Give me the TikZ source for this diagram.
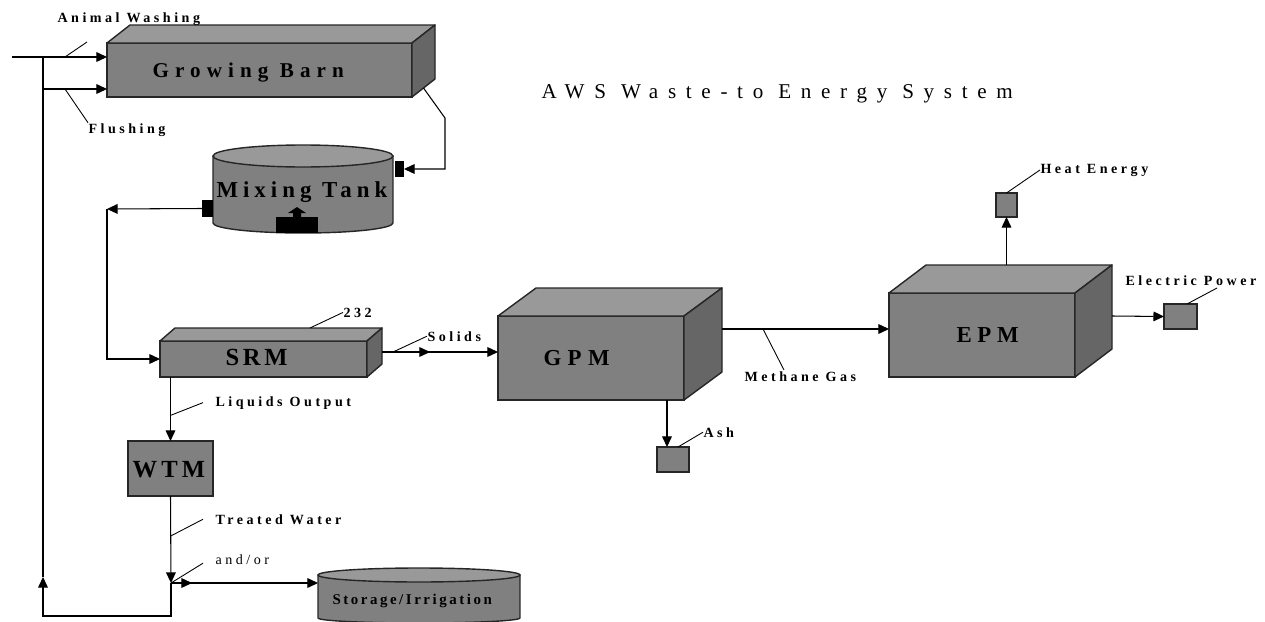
\documentclass[tikz,border=0pt]{standalone}
\usepackage{fontspec}
\setmainfont{Liberation Serif}
\newfontfamily\lblfont[LetterSpace=25]{Liberation Serif}
\newfontfamily\boxfont{Liberation Serif}
\newfontfamily\titlefont[LetterSpace=46]{Liberation Serif}
\usetikzlibrary{arrows.meta,fit,calc}

\definecolor{frontgray}{HTML}{808080}
\definecolor{topgray}{HTML}{999999}
\definecolor{sidegray}{HTML}{666666}

% top and right faces of a box drawn behind a front node
\newcommand{\cubefaces}[3]{%
  \filldraw[topface] (#1.north west) -- ++(#2,#3) -- ([shift={(#2,#3)}]#1.north east) -- (#1.north east) -- cycle;
  \filldraw[sideface] (#1.north east) -- ++(#2,#3) -- ([shift={(#2,#3)}]#1.south east) -- (#1.south east) -- cycle;
}

\begin{document}
\begin{tikzpicture}[x=0.02cm, y=-0.02cm, line width=0.6pt,
    front/.style={draw=black!85, fill=frontgray, line width=0.8pt, inner sep=0pt, outer sep=0pt},
    topface/.style={draw=black!85, fill=topgray, line width=0.8pt, line join=round},
    sideface/.style={draw=black!85, fill=sidegray, line width=0.8pt, line join=round},
    port/.style={fill=black, inner sep=0pt, outer sep=0pt},
    arr/.style={-{Triangle[length=6pt,width=5.5pt]}},
    leader/.style={line width=0.5pt},
    lbl/.style={font=\lblfont\bfseries\fontsize{8}{9}\selectfont, inner sep=0pt, anchor=base west},
    big/.style 2 args={font=\boxfont\bfseries\fontsize{#1}{#1}\selectfont\addfontfeature{LetterSpace=#2}, inner sep=0pt, anchor=base west}]

    \useasboundingbox (0,0) rectangle (1265,622);

    \node[anchor=base west, inner sep=0pt, font=\titlefont\fontsize{12}{14}\selectfont] (title) at (541,98) {AWS Waste-to Energy System};

    % boxes
    \node[front, fit={(107,43) (412,97)}] (barn) {};
    \cubefaces{barn}{23}{-18}
    \node[big={12}{29}] (barntext) at (152,77) {Growing Barn};

    \node[front, fit={(160,341) (367,377)}] (srm) {};
    \cubefaces{srm}{15}{-13}
    \node[big={14}{15}] (srmtext) at (225,365) {SRM};

    \node[front, fit={(498,316) (684,400)}] (gpm) {};
    \cubefaces{gpm}{38}{-28}
    \node[big={13}{28}] (gpmtext) at (543,365) {GPM};

    \node[front, fit={(889,293) (1075,377)}] (epm) {};
    \cubefaces{epm}{37}{-28}
    \node[big={13}{25}] (epmtext) at (956,342) {EPM};

    \node[front, fit={(128,441) (213,496)}] (wtm) {};
    \node[big={14}{17}] (wtmtext) at (132,477) {WTM};

    \node[front, fit={(657,447) (689,472)}] (ash) {};
    \node[front, fit={(996,193) (1017,217)}] (heat) {};
    \node[front, fit={(1164,304) (1197,329)}] (elec) {};

    % mixing tank
    \node[inner sep=0pt, outer sep=0pt, fit={(213,156) (393,223)}] (tank) {};
    \filldraw[front] (tank.north west) -- (tank.south west) arc[start angle=180, end angle=360, x radius=1.8cm, y radius=0.2cm] -- (tank.north east) -- cycle;
    \filldraw[topface] (tank.north) ellipse [x radius=1.8cm, y radius=0.22cm];
    \node[big={13}{22}] (tanktext) at (216,197) {Mixing Tank};
    \node[port, fit={(395,161) (404,177)}] (portin) {};
    \node[port, fit={(202,200) (213,217)}] (portout) {};
    \node[port, fit={(276,217) (318,233)}] (mixer) {};
    \fill (293,217) -- (293,213) -- (288,213) -- (297,207) -- (306,213) -- (301,213) -- (301,217) -- cycle;

    % storage
    \node[inner sep=0pt, outer sep=0pt, fit={(318,575) (520,618)}] (store) {};
    \filldraw[front] (store.north west) -- (store.south west) arc[start angle=180, end angle=360, x radius=2.02cm, y radius=0.1cm] -- (store.north east) -- cycle;
    \filldraw[topface] (store.north) ellipse [x radius=2.02cm, y radius=0.14cm];
    \node[big={8.5}{17}] (storetext) at (332,604) {Storage/Irrigation};

    % flows
    \coordinate (inlet) at (12,57);
    \coordinate (split) at (43,57);
    \coordinate (flushpt) at (43,89);
    \draw[arr] (inlet) -- (inlet -| barn.west);
    \draw[arr] (flushpt) -- (flushpt -| barn.west);

    \coordinate (drop) at (445,118);
    \draw[arr] ([shift={(11.5,-9)}]barn.south east) -- (drop) |- (portin.east);

    \coordinate (bend) at (107,209);
    \draw[arr] (portout.west) -- (bend);
    \draw[arr] (bend) |- (srm.west);

    \coordinate (srmout) at ([shift={(15,-7)}]srm.east);
    \draw[arr] (srmout) -- (srmout -| gpm.west);
    \draw[arr] (srmout) -- ++(48,0);

    \draw[arr] (srm.south -| wtm.north) -- (wtm.north);

    \coordinate (junc) at (171,583);
    \coordinate (retup) at (43,577);
    \draw[arr] (wtm.south) -- (junc);
    \draw[arr] (junc) -- ++(0,33) -| (retup);
    \draw (retup) -- (split);
    \draw[arr] (junc) -- (junc -| store.west);
    \draw[arr] (junc) -- ++(21,0);

    \coordinate (gpmout) at ([shift={(38,-29)}]gpm.east);
    \draw[arr] (gpmout) -- (gpmout -| epm.west);
    \draw[arr] ([xshift=-0.12cm]ash.north |- gpm.south) -- ([xshift=-0.12cm]ash.north);

    \coordinate (epmtop) at ([shift={(37,-28)}]epm.north west);
    \draw[arr] (heat.south |- epmtop) -- (heat.south);
    \draw[arr] ([shift={(37,-19)}]epm.east) -- (elec.west);

    % labels
    \node[lbl] (washlbl) at (57,22) {Animal Washing};
    \draw[leader] ([xshift=0.44cm]split) -- ([shift={(30,20)}]washlbl.base west);
    \node[lbl] (flushlbl) at (88,133) {Flushing};
    \draw[leader] ([xshift=0.44cm]flushpt) -- (flushlbl.north west);
    \node[lbl] (srmnum) at (343,317) {232};
    \draw[leader] ([shift={(150,-13)}]srm.north west) -- (srmnum.west);
    \node[lbl] (solidlbl) at (427,341) {Solids};
    \draw[leader] ([xshift=0.22cm]srmout) -- (solidlbl.west);
    \node[lbl] (liqlbl) at (215,406) {Liquids Output};
    \draw[leader] ($(srm.south -| wtm.north)!0.6!(wtm.north)$) -- ([xshift=-0.24cm]liqlbl.west);
    \node[lbl] (waterlbl) at (215,524) {Treated Water};
    \draw[leader] ($(wtm.south)!0.46!(junc)$) -- ([xshift=-0.24cm]waterlbl.west);
    \node[lbl, font=\lblfont\fontsize{8}{9}\selectfont] (andor) at (215,564) {and/or};
    \draw[leader] (junc) -- ([shift={(-12,4)}]andor.west);
    \node[lbl] (gaslbl) at (744,381) {Methane Gas};
    \draw[leader] ([xshift=0.82cm]gpmout) -- ([shift={(40,-11)}]gaslbl.base west);
    \node[lbl] (ashlbl) at (703,437) {Ash};
    \draw[leader] ([xshift=-0.22cm]ash.north east) -- (ashlbl.west);
    \node[lbl] (heatlbl) at (1040,173) {Heat Energy};
    \draw[leader] (heat.north) -- (heatlbl.west);
    \node[lbl] (eleclbl) at (1125,285) {Electric Power};
    \draw[leader] ([xshift=-0.2cm]elec.north east) -- ([shift={(92,3)}]eleclbl.base west);

\end{tikzpicture}
\end{document}
